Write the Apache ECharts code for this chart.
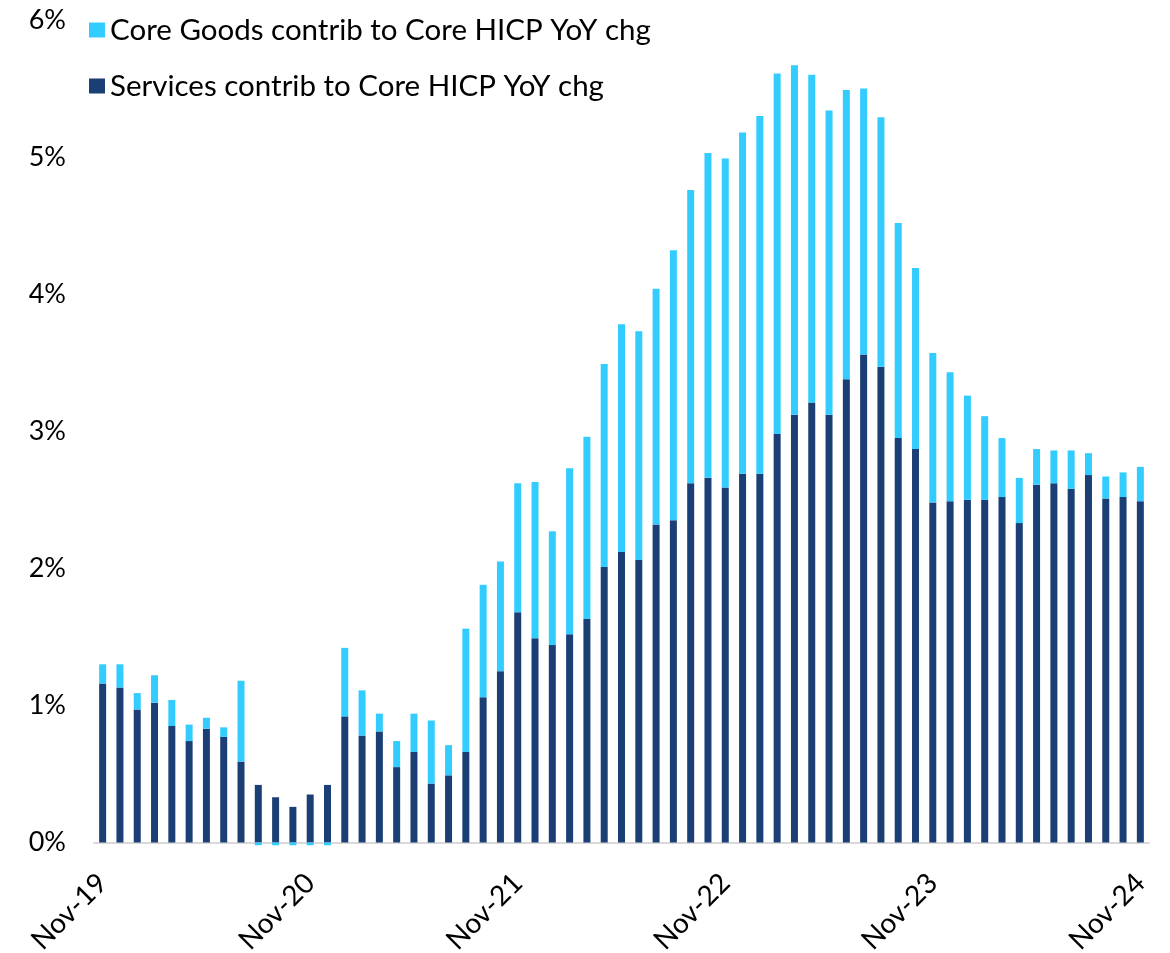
<!DOCTYPE html>
<html>
<head>
<meta charset="utf-8">
<script src="https://cdn.jsdelivr.net/npm/echarts@6/dist/echarts.min.js"></script>
<style>
html,body{margin:0;padding:0;background:#fff;}
#chart{width:1170px;height:953px;}
</style>
</head>
<body>
<div id="chart"></div>
<script>
const categories = [
  'Nov-19','Dec-19','Jan-20','Feb-20','Mar-20','Apr-20','May-20','Jun-20','Jul-20','Aug-20','Sep-20','Oct-20',
  'Nov-20','Dec-20','Jan-21','Feb-21','Mar-21','Apr-21','May-21','Jun-21','Jul-21','Aug-21','Sep-21','Oct-21',
  'Nov-21','Dec-21','Jan-22','Feb-22','Mar-22','Apr-22','May-22','Jun-22','Jul-22','Aug-22','Sep-22','Oct-22',
  'Nov-22','Dec-22','Jan-23','Feb-23','Mar-23','Apr-23','May-23','Jun-23','Jul-23','Aug-23','Sep-23','Oct-23',
  'Nov-23','Dec-23','Jan-24','Feb-24','Mar-24','Apr-24','May-24','Jun-24','Jul-24','Aug-24','Sep-24','Oct-24',
  'Nov-24'
];

const servicesContrib = [
  1.16,1.13,0.97,1.02,0.85,0.74,0.83,0.77,0.59,0.42,0.33,0.26,
  0.35,0.42,0.92,0.78,0.81,0.55,0.66,0.43,0.49,0.66,1.06,1.25,
  1.68,1.49,1.44,1.52,1.63,2.01,2.12,2.06,2.32,2.35,2.62,2.66,
  2.59,2.69,2.69,2.98,3.12,3.21,3.12,3.38,3.56,3.47,2.95,2.87,
  2.48,2.49,2.50,2.50,2.52,2.33,2.61,2.62,2.58,2.68,2.51,2.52,
  2.49
];

const goodsContrib = [
  0.14,0.17,0.12,0.20,0.19,0.12,0.08,0.07,0.59,-0.02,-0.02,-0.02,
  -0.02,-0.02,0.50,0.33,0.13,0.19,0.28,0.46,0.22,0.90,0.82,0.80,
  0.94,1.14,0.83,1.21,1.33,1.48,1.66,1.67,1.72,1.97,2.14,2.37,
  2.40,2.49,2.61,2.63,2.55,2.39,2.22,2.11,1.94,1.82,1.57,1.32,
  1.09,0.94,0.76,0.61,0.43,0.33,0.26,0.24,0.28,0.16,0.16,0.18,
  0.25
];

const yTicks = [0, 1, 2, 3, 4, 5, 6];
const goodsName = 'Core Goods contrib to Core HICP YoY chg';
const servicesName = 'Services contrib to Core HICP YoY chg';

const chart = echarts.init(document.getElementById('chart'), null, {renderer: 'canvas'});
chart.setOption({
  animation: false,
  backgroundColor: '#ffffff',
  textStyle: {fontFamily: 'Lato'},
  grid: {left: 94, right: 21, top: 20, bottom: 110.5, containLabel: false, outerBoundsMode: 'none'},
  legend: {
    orient: 'vertical',
    left: 84,
    top: 10,
    itemWidth: 16,
    itemHeight: 15,
    itemGap: 26,
    icon: 'rect',
    data: [goodsName, servicesName],
    textStyle: {fontFamily: 'Lato', fontSize: 29.5, color: '#000'}
  },
  xAxis: {
    type: 'category',
    data: categories,
    boundaryGap: true,
    axisLine: {show: true, lineStyle: {color: '#D9D9D9', width: 2}},
    axisTick: {show: false},
    axisLabel: {
      interval: 11,
      rotate: 45,
      margin: 36,
      fontSize: 28,
      fontFamily: 'Lato',
      color: '#000'
    }
  },
  yAxis: {
    type: 'value',
    min: yTicks[0],
    max: yTicks[yTicks.length - 1],
    interval: 1,
    axisLine: {show: false},
    axisTick: {show: false},
    splitLine: {show: false},
    axisLabel: {
      formatter: '{value}%',
      fontSize: 27,
      fontFamily: 'Lato',
      color: '#000',
      margin: 28
    }
  },
  series: [
    {
      name: servicesName,
      type: 'bar',
      stack: 'total',
      barWidth: 7,
      clip: false,
      data: servicesContrib,
      itemStyle: {color: '#1B3F74'}
    },
    {
      name: goodsName,
      type: 'bar',
      stack: 'total',
      barWidth: 7,
      clip: false,
      data: goodsContrib,
      itemStyle: {color: '#33CCFF'}
    }
  ]
});
</script>
</body>
</html>
